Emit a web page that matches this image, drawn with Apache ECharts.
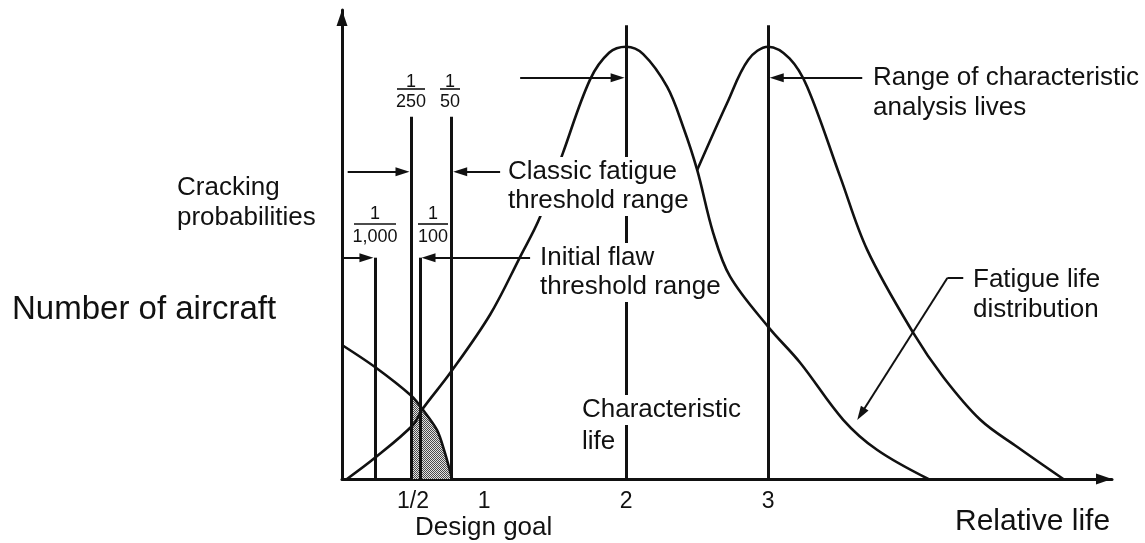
<!DOCTYPE html>
<html>
<head>
<meta charset="utf-8">
<script src="https://cdn.jsdelivr.net/npm/echarts@6/dist/echarts.min.js"></script>
<style>
  html, body { margin: 0; padding: 0; background: #fff; }
  #chart { width: 1145px; height: 543px; }
</style>
</head>
<body>
<div id="chart"></div>
<script>
// ---- data (relative life on x, number of aircraft on y, peak = 100) ----
const leftCurve = [[0.035,0],[0.232,4.9],[0.5,12.5],[0.563,16.0],[0.761,24.5],[1.042,38.0],[1.254,51.4],[1.394,60.6],[1.556,75.5],[1.746,92.4],[1.88,98.6],[2.0,100],[2.12,98.3],[2.289,90.7],[2.401,81.5],[2.5,71.5],[2.613,56.9],[2.732,46.8],[3.0,35.2],[3.225,26.9],[3.528,13.7],[3.768,6.7],[4.127,0]];
const rightCurve = [[2.5,71.5],[2.711,87.0],[2.86,97.0],[3.0,100],[3.15,97.3],[3.275,90.7],[3.507,69.9],[3.697,53.0],[4.021,33.8],[4.232,23.6],[4.493,13.7],[4.754,7.4],[5.077,0]];
const fallingCurve = [[0,31.0],[0.232,25.9],[0.486,19.3],[0.57,16.0],[0.669,11.3],[0.725,6.0],[0.775,0]];
const shadeArea = [[0.486,19.3],[0.57,16.0],[0.669,11.3],[0.725,6.0],[0.775,0]];
const refLineX = [0.232, 0.486, 0.549, 0.772, 2, 3];
const refLineTop = [51.2, 83.8, 51.2, 83.8, 105, 105];
const arrowFrom = [[0.04,71.06],[1.113,71.06],[0.0,51.16],[1.324,51.16],[1.254,92.8],[3.662,92.8],[4.261,46.5]];
const arrowTo   = [[0.426,71.06],[0.832,71.06],[0.172,51.16],[0.609,51.16],[1.94,92.8],[3.06,92.8],[3.653,15.02]];
const leaderFrom = [[4.373,46.5]];
const leaderTo = [[4.261,46.5]];
const tickValues = [0.5, 1, 2, 3];
const tickLabels = ['1/2', '1', '2', '3'];

const INK = '#111';
const FONT = '"Liberation Sans", Arial, sans-serif';

const pc = document.createElement('canvas');
pc.width = 2; pc.height = 2;
const pctx = pc.getContext('2d');
pctx.fillStyle = '#e2e2e2'; pctx.fillRect(0, 0, 2, 2);
pctx.fillStyle = '#4a4a4a'; pctx.fillRect(0, 0, 1, 1); pctx.fillRect(1, 1, 1, 1);

function txt(text, left, top, size, lh, bg) {
  return { type: 'text', left: left, top: top, z: 100,
    style: { text: text, fontSize: size, fontFamily: FONT, fill: INK, lineHeight: lh,
      backgroundColor: bg ? '#fff' : 'transparent' } };
}
function frac(num, den, cx, yNum, yBar, yDen, x1, x2) {
  return [
    { type: 'text', x: cx, y: yNum, z: 100, style: { text: num, fontSize: 18, fontFamily: FONT, fill: INK, align: 'center', verticalAlign: 'middle', textAlign: 'center', textVerticalAlign: 'middle' } },
    { type: 'line', z: 100, shape: { x1: x1, y1: yBar, x2: x2, y2: yBar }, style: { stroke: INK, lineWidth: 1.6 } },
    { type: 'text', x: cx, y: yDen, z: 100, style: { text: den, fontSize: 18, fontFamily: FONT, fill: INK, align: 'center', verticalAlign: 'middle', textAlign: 'center', textVerticalAlign: 'middle' } }
  ];
}

const chart = echarts.init(document.getElementById('chart'), null, { renderer: 'canvas' });
const curveStyle = { color: INK, width: 2.6 };

chart.setOption({
  animation: false,
  backgroundColor: '#fff',
  grid: { left: 342, right: 33, top: 10, bottom: 64, containLabel: false },
  xAxis: {
    type: 'value', min: 0, max: 5.42, interval: 0.5,
    axisLine: { show: true, onZero: false, symbol: ['none', 'triangle'], symbolSize: [11, 16], symbolOffset: [0, -8], lineStyle: { color: INK, width: 3 } },
    axisTick: { show: false }, splitLine: { show: false },
    axisLabel: { margin: 11, color: INK, fontSize: 23, fontFamily: FONT,
      formatter: function (v) { const i = tickValues.findIndex(t => Math.abs(t - v) < 1e-6); return i >= 0 ? tickLabels[i] : ''; } }
  },
  yAxis: {
    type: 'value', min: 0, max: 108.5,
    axisLine: { show: true, onZero: false, symbol: ['none', 'triangle'], symbolSize: [11, 16], symbolOffset: [0, -8], lineStyle: { color: INK, width: 3 } },
    axisTick: { show: false }, splitLine: { show: false }, axisLabel: { show: false }
  },
  series: [
    { type: 'line', name: 'shade', data: shadeArea, smooth: 0.3, symbol: 'none', z: 1,
      lineStyle: { width: 0 }, areaStyle: { color: { image: pc, repeat: 'repeat' }, opacity: 1 } },
    { type: 'line', name: 'Fatigue life distribution (characteristic life 2)', data: leftCurve, smooth: 0.35, symbol: 'none', lineStyle: curveStyle, z: 3 },
    { type: 'line', name: 'Fatigue life distribution (characteristic life 3)', data: rightCurve, smooth: 0.35, symbol: 'none', lineStyle: curveStyle, z: 3 },
    { type: 'line', name: 'Cracking distribution', data: fallingCurve, smooth: 0.3, symbol: 'none', lineStyle: curveStyle, z: 3,
      markLine: { silent: true, symbol: ['none', 'none'], animation: false, label: { show: false },
        lineStyle: { color: INK, width: 3, type: 'solid' },
        data: refLineX.map((x, i) => [{ coord: [x, 0] }, { coord: [x, refLineTop[i]] }]) } },
    { type: 'line', name: 'arrows', data: [], symbol: 'none', z: 4,
      markLine: { silent: true, symbol: ['none', 'triangle'], symbolSize: [9, 14], animation: false, label: { show: false },
        lineStyle: { color: INK, width: 2, type: 'solid' },
        data: arrowFrom.map((p, i) => [{ coord: p }, { coord: arrowTo[i] }]) } },
    { type: 'line', name: 'leader', data: [], symbol: 'none', z: 4,
      markLine: { silent: true, symbol: ['none', 'none'], animation: false, label: { show: false },
        lineStyle: { color: INK, width: 2, type: 'solid' },
        data: leaderFrom.map((p, i) => [{ coord: p }, { coord: leaderTo[i] }]) } }
  ],
  graphic: [
    txt('Number of aircraft', 12, 291, 33, 38, false),
    txt('Cracking\nprobabilities', 177, 173, 26, 30, false),
    txt('Classic fatigue', 508, 157, 26, 30, true),
    txt('threshold range', 508, 186, 26, 30, true),
    txt('Initial flaw', 540, 243, 26, 30, true),
    txt('threshold range', 540, 272, 26, 30, true),
    txt('Range of characteristic\nanalysis lives', 873, 63, 26, 30, true),
    txt('Fatigue life\ndistribution', 973, 265, 26, 30, true),
    txt('Characteristic', 582, 395, 26, 30, true),
    txt('life', 582, 427, 26, 30, false),
    txt('Design goal', 415, 513, 26, 30, false),
    txt('Relative life', 955, 505, 30, 34, false)
  ].concat(
    frac('1', '250', 411, 82, 89, 102, 397, 425),
    frac('1', '50', 450, 82, 89, 102, 440, 460),
    frac('1', '1,000', 375, 214, 224, 237, 354, 396),
    frac('1', '100', 433, 214, 224, 237, 418, 448)
  )
});
</script>
</body>
</html>
